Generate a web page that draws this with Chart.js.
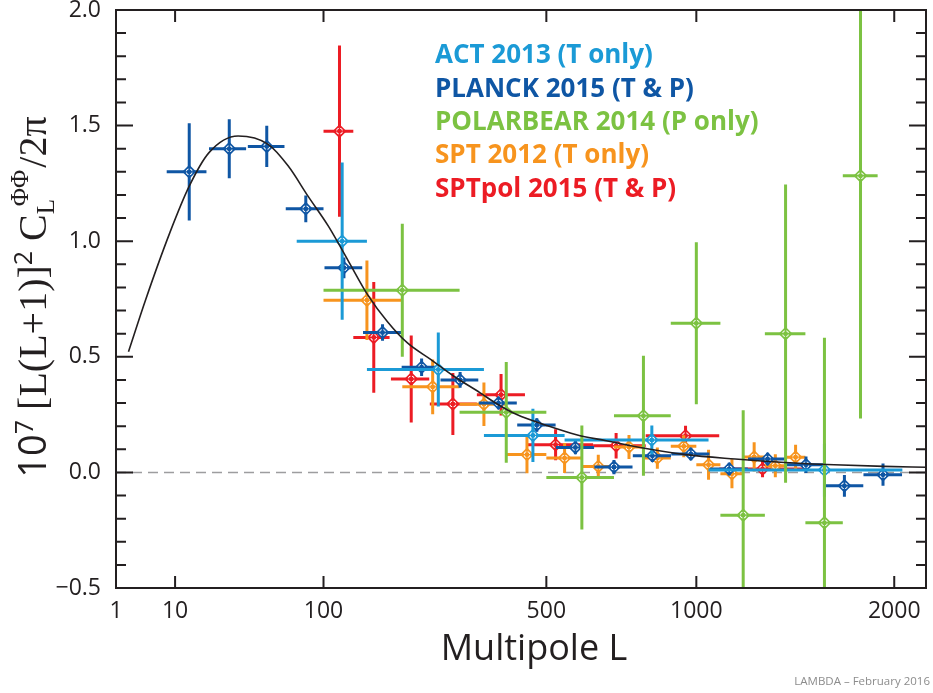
<!DOCTYPE html>
<html>
<head>
<meta charset="utf-8">
<script src="https://cdn.jsdelivr.net/npm/chart.js@4.4.0/dist/chart.umd.min.js"></script>
<style>
  html, body { margin: 0; padding: 0; background: #fff; }
</style>
</head>
<body>
<canvas id="chart" width="933" height="693"></canvas>
<script>
// x axis is linear in L^0.4
const xTickL = [1, 10, 100, 500, 1000, 2000];
const xMinL = 1;
const xMaxL = 2200;

const seriesNames = ["ACT 2013 (T only)", "PLANCK 2015 (T & P)", "POLARBEAR 2014 (P only)", "SPT 2012 (T only)", "SPTpol 2015 (T & P)"];
const seriesColors = ["#1b9ad6", "#0f56a4", "#7cc242", "#f7941e", "#ec1c24"];

// ACT 2013
const actL   = [120, 260, 465, 830, 1600];
const actLo  = [75, 150, 350, 550, 1050];
const actHi  = [150, 350, 550, 1050, 2050];
const actVal = [1.00, 0.445, 0.16, 0.14, 0.01];
const actErr = [0.34, 0.16, 0.115, 0.063, 0.115];

// PLANCK 2015
const planckL   = [14, 30, 52, 83, 122, 171, 231, 301, 382, 475, 581, 700, 832, 978, 1138, 1313, 1503, 1709, 1932];
const planckLo  = [8, 21, 40, 66, 101, 145, 199, 264, 339, 426, 526, 638, 763, 902, 1055, 1222, 1405, 1603, 1817];
const planckHi  = [20, 39, 65, 100, 144, 198, 263, 338, 425, 525, 637, 762, 901, 1054, 1221, 1404, 1602, 1816, 2048];
const planckVal = [1.30, 1.40, 1.41, 1.14, 0.885, 0.605, 0.455, 0.40, 0.30, 0.205, 0.108, 0.023, 0.072, 0.080, 0.015, 0.058, 0.033, -0.058, -0.010];
const planckErr = [0.21, 0.128, 0.089, 0.058, 0.045, 0.036, 0.038, 0.034, 0.027, 0.029, 0.029, 0.031, 0.027, 0.027, 0.027, 0.027, 0.036, 0.047, 0.048];

// POLARBEAR 2014
const pbL   = [200, 400, 600, 800, 1000, 1200, 1400, 1600, 1800];
const pbLo  = [100, 300, 500, 700, 900, 1100, 1300, 1500, 1700];
const pbHi  = [300, 500, 700, 900, 1100, 1300, 1500, 1700, 1900];
const pbVal = [0.788, 0.26, -0.022, 0.245, 0.645, -0.185, 0.60, -0.218, 1.283];
const pbErr = [0.288, 0.218, 0.225, 0.26, 0.35, 0.454, 0.645, 0.80, 1.05];

// SPT 2012
const sptL   = [150, 250, 350, 450, 550, 650, 750, 850, 950, 1050, 1150, 1250, 1350, 1450];
const sptLo  = [100, 200, 300, 400, 500, 600, 700, 800, 900, 1000, 1100, 1200, 1300, 1400];
const sptHi  = [200, 300, 400, 500, 600, 700, 800, 900, 1000, 1100, 1200, 1300, 1400, 1500];
const sptVal = [0.745, 0.37, 0.295, 0.077, 0.062, 0.026, 0.11, 0.062, 0.113, 0.033, -0.006, 0.067, 0.029, 0.066];
const sptErr = [0.172, 0.118, 0.094, 0.081, 0.065, 0.05, 0.052, 0.046, 0.048, 0.065, 0.063, 0.063, 0.05, 0.054];

// SPTpol 2015
const sptpolL   = [117, 159, 214, 287, 388, 525, 707, 957, 1289];
const sptpolLo  = [100, 133, 183, 245, 335, 448, 634, 808, 1095];
const sptpolHi  = [133, 181, 244, 335, 445, 634, 808, 1095, 1500];
const sptpolVal = [1.476, 0.584, 0.404, 0.296, 0.336, 0.12, 0.115, 0.159, 0.015];
const sptpolErr = [0.37, 0.24, 0.188, 0.134, 0.09, 0.067, 0.055, 0.043, 0.036];

// theory curve
const theoryL   = [2, 4.1, 8.7, 14, 21, 34.5, 53, 68, 85, 105, 127, 151, 178, 208, 247, 289, 342, 379, 425, 501, 584, 675, 774, 957, 1164, 1396, 1653, 1938, 2200];
const theoryVal = [0.522, 0.747, 1.036, 1.238, 1.383, 1.455, 1.419, 1.325, 1.195, 1.065, 0.915, 0.768, 0.652, 0.560, 0.488, 0.416, 0.344, 0.296, 0.250, 0.203, 0.163, 0.137, 0.111, 0.077, 0.058, 0.043, 0.033, 0.026, 0.022];

const ink = "#231f20";
const narrow = "'Liberation Sans Narrow', 'Open Sans', sans-serif";

function T(L) {
    return Math.pow(L, 0.4);
}

function mk(idx, L, lo, hi, val, err) {
    return {
        label: seriesNames[idx],
        data: L.map((l, i) => ({ x: T(l), y: val[i], x0: T(lo[i]), x1: T(hi[i]), e: err[i] })),
        backgroundColor: seriesColors[idx],
        borderColor: seriesColors[idx],
        borderWidth: 0,
        pointStyle: "rectRot",
        pointRadius: 7,
        showLine: false,
        bars: true
    };
}

function clipArea(chart) {
    const a = chart.chartArea;
    chart.ctx.beginPath();
    chart.ctx.rect(a.left, a.top, a.right - a.left, a.bottom - a.top);
    chart.ctx.clip();
}

const errorBars = {
    id: "errorBars",
    beforeDatasetsDraw(chart) {
        // dashed zero line
        const { ctx, chartArea: a, scales: { y } } = chart;
        const y0 = y.getPixelForValue(0);
        ctx.save();
        ctx.strokeStyle = "#9d9d9f";
        ctx.lineWidth = 1.5;
        ctx.setLineDash([10, 6]);
        ctx.beginPath();
        ctx.moveTo(a.left, y0);
        ctx.lineTo(a.right, y0);
        ctx.stroke();
        ctx.restore();
    },
    beforeDatasetDraw(chart, args) {
        const ds = chart.data.datasets[args.index];
        if (!ds.bars) return;
        const { ctx, scales: { x, y } } = chart;
        ctx.save();
        clipArea(chart);
        ctx.strokeStyle = ds.borderColor;
        ctx.lineWidth = 3;
        ds.data.forEach(p => {
            const px = x.getPixelForValue(p.x);
            const py = y.getPixelForValue(p.y);
            ctx.beginPath();
            ctx.moveTo(x.getPixelForValue(p.x0), py);
            ctx.lineTo(x.getPixelForValue(p.x1), py);
            ctx.moveTo(px, y.getPixelForValue(p.y - p.e));
            ctx.lineTo(px, y.getPixelForValue(p.y + p.e));
            ctx.stroke();
        });
        ctx.restore();
    },
    afterDatasetDraw(chart, args) {
        const ds = chart.data.datasets[args.index];
        if (!ds.bars) return;
        const ctx = chart.ctx;
        ctx.save();
        clipArea(chart);
        chart.getDatasetMeta(args.index).data.forEach(el => {
            ctx.strokeStyle = "#ffffff";
            ctx.lineWidth = 1;
            ctx.beginPath();
            ctx.arc(el.x, el.y, 3, 0, Math.PI * 2);
            ctx.stroke();
            ctx.strokeStyle = ds.borderColor;
            ctx.lineWidth = 1.4;
            ctx.beginPath();
            ctx.moveTo(el.x - 4, el.y);
            ctx.lineTo(el.x + 4, el.y);
            ctx.moveTo(el.x, el.y - 4);
            ctx.lineTo(el.x, el.y + 4);
            ctx.stroke();
        });
        ctx.restore();
    }
};

const frame = {
    id: "frame",
    afterDatasetsDraw(chart) {
        const { ctx, chartArea: a, scales: { x, y } } = chart;
        ctx.save();
        ctx.strokeStyle = ink;
        ctx.lineWidth = 2;
        ctx.strokeRect(a.left, a.top, a.right - a.left, a.bottom - a.top);
        ctx.beginPath();
        // x ticks, bottom and top, pointing in
        x.ticks.forEach(t => {
            const px = x.getPixelForValue(t.value);
            ctx.moveTo(px, a.bottom);
            ctx.lineTo(px, a.bottom - 12);
            ctx.moveTo(px, a.top);
            ctx.lineTo(px, a.top + 12);
        });
        // y ticks, major every 0.5 and minor every 0.1
        for (let i = 0; i <= 25; i++) {
            const v = y.min + i * 0.1;
            const py = y.getPixelForValue(v);
            const len = i % 5 === 0 ? 17 : 10;
            ctx.moveTo(a.left, py);
            ctx.lineTo(a.left + len, py);
            ctx.moveTo(a.right, py);
            ctx.lineTo(a.right - len, py);
        }
        ctx.stroke();
        ctx.restore();
    },
    afterDraw(chart) {
        const ctx = chart.ctx;
        ctx.save();
        // legend
        ctx.font = "bold 26px 'Open Sans', sans-serif";
        ctx.textBaseline = "middle";
        ctx.textAlign = "left";
        seriesNames.forEach((name, i) => {
            ctx.fillStyle = seriesColors[i];
            ctx.fillText(name, 435, 56 + i * 33.3);
        });

        // x title
        ctx.fillStyle = ink;
        ctx.textAlign = "center";
        ctx.font = "36px 'Open Sans', sans-serif";
        ctx.fillText("Multipole L", 534, 650);

        // credit
        ctx.font = "11.5px " + narrow;
        ctx.fillStyle = "#8c8c8c";
        ctx.textAlign = "right";
        ctx.textBaseline = "alphabetic";
        ctx.fillText("LAMBDA \u2013 February 2016", 930, 685);

        // rotated y title with sub/superscripts
        const serif = "'Liberation Serif', 'DejaVu Serif', serif";
        const runs = [
            { t: "10", f: "38px " + narrow, dy: 0 },
            { t: "7", f: "25px " + narrow, dy: -13 },
            { t: " [L(L+1)]", f: "40px " + serif, dy: 0 },
            { t: "2", f: "25px " + narrow, dy: -14 },
            { t: " C", f: "40px " + serif, dy: 0 },
            { t: "L", f: "25px " + serif, dy: 8, stackNext: true },
            { t: "\u03A6\u03A6", f: "25px " + serif, dy: -18, shift: 8 },
            { t: "/2\u03C0", f: "40px " + serif, dy: 0 }
        ];
        runs.forEach(r => {
            ctx.font = r.f;
            r.w = ctx.measureText(r.t).width;
        });
        let total = 0;
        for (let i = 0; i < runs.length; i++) {
            const r = runs[i];
            if (r.stackNext) {
                const n = runs[i + 1];
                total += Math.max(r.w, n.w + n.shift) + 2;
                i++;
            } else {
                total += r.w;
            }
        }
        ctx.translate(46, 297);
        ctx.rotate(-Math.PI / 2);
        ctx.fillStyle = ink;
        ctx.textAlign = "left";
        let cx = -total / 2;
        for (let i = 0; i < runs.length; i++) {
            const r = runs[i];
            ctx.font = r.f;
            ctx.fillText(r.t, cx, r.dy);
            if (r.stackNext) {
                const n = runs[i + 1];
                ctx.font = n.f;
                ctx.fillText(n.t, cx + n.shift, n.dy);
                cx += Math.max(r.w, n.w + n.shift) + 2;
                i++;
            } else {
                cx += r.w;
            }
        }
        ctx.restore();
    }
};

const ctx = document.getElementById("chart");

const chart = new Chart(ctx, {
    type: "scatter",
    data: {
        datasets: [
            {
                type: "line",
                label: "theory",
                data: theoryL.map((l, i) => ({ x: T(l), y: theoryVal[i] })),
                borderColor: ink,
                borderWidth: 1.6,
                pointRadius: 0,
                showLine: true,
                fill: false,
                cubicInterpolationMode: "monotone"
            },
            mk(2, pbL, pbLo, pbHi, pbVal, pbErr),
            mk(0, actL, actLo, actHi, actVal, actErr),
            mk(1, planckL, planckLo, planckHi, planckVal, planckErr),
            mk(3, sptL, sptLo, sptHi, sptVal, sptErr),
            mk(4, sptpolL, sptpolLo, sptpolHi, sptpolVal, sptpolErr)
        ]
    },
    options: {
        responsive: false,
        animation: false,
        devicePixelRatio: 1,
        layout: { padding: { top: 10, right: 1, left: 0, bottom: 0 } },
        plugins: {
            legend: { display: false },
            tooltip: { enabled: false }
        },
        scales: {
            x: {
                type: "linear",
                min: T(xMinL),
                max: T(xMaxL),
                grid: { display: false, drawTicks: false },
                border: { display: false },
                afterFit(scale) {
                    scale.height = 105;
                    scale.paddingLeft = 0;
                    scale.paddingRight = 0;
                },
                afterBuildTicks(scale) {
                    scale.ticks = xTickL.map(l => ({ value: T(l) }));
                },
                ticks: {
                    autoSkip: false,
                    maxRotation: 0,
                    padding: 10,
                    color: ink,
                    font: { family: narrow, size: 23 },
                    callback: v => String(Math.round(Math.pow(v, 2.5)))
                }
            },
            y: {
                min: -0.5,
                max: 2.0,
                grid: { display: false, drawTicks: false },
                border: { display: false },
                afterFit(scale) {
                    scale.width = 116;
                    scale.paddingTop = 0;
                    scale.paddingBottom = 0;
                },
                ticks: {
                    stepSize: 0.5,
                    padding: 15,
                    color: ink,
                    font: { family: narrow, size: 23 },
                    callback: v => (v < 0 ? "\u2212" : "") + Math.abs(v).toFixed(1)
                }
            }
        }
    },
    plugins: [errorBars, frame]
});
</script>
</body>
</html>
